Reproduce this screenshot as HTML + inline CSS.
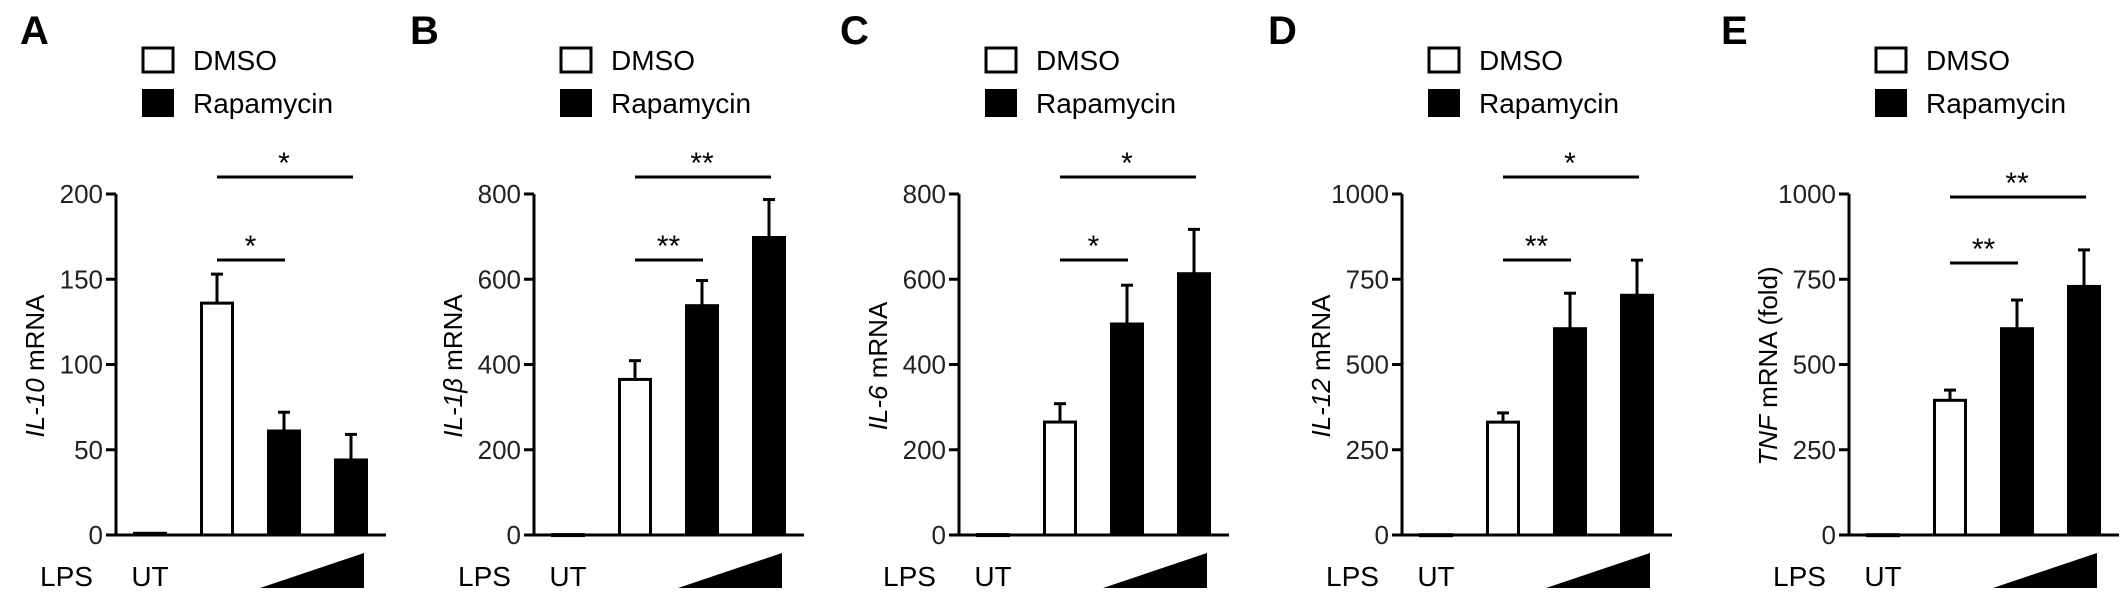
<!DOCTYPE html>
<html><head><meta charset="utf-8"><style>
html,body{margin:0;padding:0;background:#fff;}
svg{display:block;font-family:"Liberation Sans",Arial,sans-serif;}
</style></head><body>
<svg id="fig" width="2126" height="599" viewBox="0 0 2126 599" xmlns="http://www.w3.org/2000/svg"></svg>
<script>
const panelLetters = ["A","B","C","D","E"];
const panelAxisX = [116, 534, 959, 1402, 1849];
const panelLetterX = [20, 410, 840, 1268, 1721];
const yMax = [200, 800, 800, 1000, 1000];
const yTicks = [[0,50,100,150,200],[0,200,400,600,800],[0,200,400,600,800],[0,250,500,750,1000],[0,250,500,750,1000]];
const yLabelItalic = ["IL-10","IL-1\u03B2","IL-6","IL-12","TNF"];
const yLabelRest = [" mRNA"," mRNA"," mRNA"," mRNA"," mRNA (fold)"];
const barValues = [[1,136,61,44],[1,365,538,698],[1,265,495,613],[1,331,605,703],[1,395,605,729]];
const errTops = [[1,153,72,59],[1,409,597,787],[1,308,586,717],[1,358,709,806],[1,425,689,836]];
const sigUpper = ["*","**","*","*","**"];
const sigLower = ["*","**","*","**","**"];
const NS = "http://www.w3.org/2000/svg";
const svg = document.getElementById("fig");
const Y0 = 535, Y1 = 194;
function mk(tag, attrs, parent){const e=document.createElementNS(NS,tag);for(const k in attrs)e.setAttribute(k,attrs[k]);(parent||svg).appendChild(e);return e;}
panelLetters.forEach((L,p)=>{
  const ax = panelAxisX[p];
  const g = mk("g",{});
  
  
  const ys = v => Y0 - v / yMax[p] * (Y0 - Y1);
  const t = mk("text",{x:panelLetterX[p],y:44,"font-size":40,"font-weight":"bold"},g); t.textContent=L;
  
  
  const lb1 = mk("rect",{x:ax+27,y:48,width:30,height:24,fill:"#fff",stroke:"#000","stroke-width":3},g);
  
  
  const lt1 = mk("text",{x:ax+77,y:70,"font-size":28},g); lt1.textContent="DMSO";
  
  
  const lb2 = mk("rect",{x:ax+26,y:89,width:32,height:28,fill:"#000"},g);
  
  
  const lt2 = mk("text",{x:ax+77,y:113,"font-size":28},g); lt2.textContent="Rapamycin";
  
  
  const yl = mk("line",{x1:ax,y1:Y1,x2:ax,y2:Y0,stroke:"#000","stroke-width":3},g);
  
  
  const xl = mk("line",{x1:ax-10,y1:Y0,x2:ax+270,y2:Y0,stroke:"#000","stroke-width":3},g);
  
  
  yTicks[p].forEach(v=>{
    const y = ys(v);
    const tk = mk("line",{x1:ax-10,y1:y,x2:ax,y2:y,stroke:"#000","stroke-width":3},g);
    
    
    const tl = mk("text",{x:ax-13,y:y+9,"font-size":26,"text-anchor":"end",fill:"#222"},g); tl.textContent=v;
    
    
  });
  const lab = mk("text",{transform:`translate(${ax-72},366) rotate(-90)`,"font-size":26,"text-anchor":"middle"},g);
  
  
  const it = mk("tspan",{"font-style":"italic"},lab); it.textContent=yLabelItalic[p];
  const rs = mk("tspan",{},lab); rs.textContent=yLabelRest[p];
  const bw = 31;
  const centers = [0,1,2,3].map(i=>ax+34+i*67);
  barValues[p].forEach((v,i)=>{
    const cx = centers[i], top = ys(v);
    if(i>0){
      const e = mk("line",{x1:cx,y1:ys(errTops[p][i]),x2:cx,y2:top,stroke:"#000","stroke-width":3},g);
      
      
      const c = mk("line",{x1:cx-6,y1:ys(errTops[p][i]),x2:cx+6,y2:ys(errTops[p][i]),stroke:"#000","stroke-width":3},g);
      
      
    }
    const r = mk("rect",{x:cx-bw/2,y:top,width:bw,height:Math.max(Y0-top,1),fill:i>=2?"#000":"#fff",stroke:"#000","stroke-width":3},g);
    
    
  });
  const uy = p===4?197:177, ly = p===4?263:260;
  const s1 = mk("line",{x1:centers[1],y1:uy,x2:centers[3]+2,y2:uy,stroke:"#000","stroke-width":3},g);
  
  
  const st1 = mk("text",{x:(centers[1]+centers[3])/2,y:uy-4,"font-size":30,"text-anchor":"middle"},g); st1.textContent=sigUpper[p];
  
  
  const s2 = mk("line",{x1:centers[1],y1:ly,x2:centers[2]+1,y2:ly,stroke:"#000","stroke-width":3},g);
  
  
  const st2 = mk("text",{x:(centers[1]+centers[2])/2,y:ly-4,"font-size":30,"text-anchor":"middle"},g); st2.textContent=sigLower[p];
  
  
  const lps = mk("text",{x:ax-76,y:586,"font-size":28},g); lps.textContent="LPS";
  
  
  const ut = mk("text",{x:centers[0],y:586,"font-size":28,"text-anchor":"middle"},g); ut.textContent="UT";
  
  
  const tri = mk("polygon",{points:`${ax+144},588 ${ax+248},588 ${ax+248},553`,fill:"#000"},g);
  
  
});
</script>
</body></html>
